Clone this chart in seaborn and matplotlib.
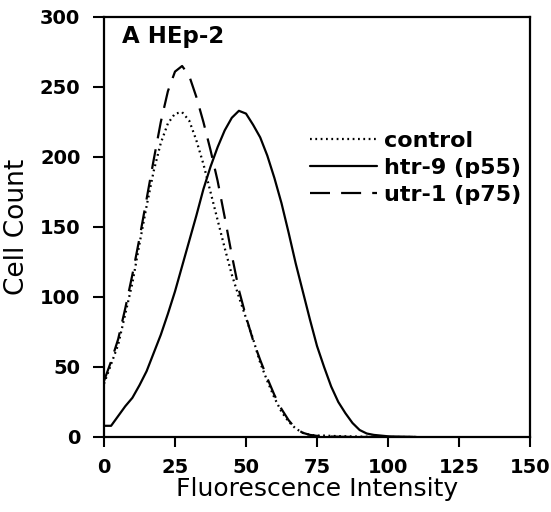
import numpy as np
import pandas as pd
import matplotlib
matplotlib.use("Agg")
import matplotlib.pyplot as plt
import seaborn as sns

# Fluorescence intensity channels (read every 2.5 units)
intensity = [i * 2.5 for i in range(45)]

control = [38, 52, 66, 88, 110, 138, 165, 190, 210, 224,
           231, 232, 226, 212, 195, 175, 155, 135, 116, 100,
           85, 70, 53, 40, 28, 18, 11, 6, 3, 1.5,
           1, 1, 0.8, 0.6, 0.5, 0.4, 0.3, 0.2, 0.2, 0.1,
           0, 0, 0, 0, 0]

htr9 = [8, 8, 15, 22, 28, 37, 47, 60, 73, 88,
        104, 122, 140, 158, 177, 193, 207, 219, 228, 233,
        231, 223, 214, 201, 185, 167, 146, 124, 104, 84,
        65, 50, 36, 25, 17, 10, 5, 2.5, 1.5, 1,
        0.5, 0.3, 0.2, 0.1, 0]

utr1 = [40, 54, 70, 92, 116, 142, 170, 198, 225, 247,
        261, 265, 258, 243, 225, 205, 183, 157, 130, 105,
        86, 69, 55, 42, 30, 20, 12, 6, 3, 1.5,
        0.8, 0.5, 0.3, 0.2, 0.1, 0, 0, 0, 0, 0,
        0, 0, 0, 0, 0]

labels = ["control", "htr-9 (p55)", "utr-1 (p75)"]
xticks = [0, 25, 50, 75, 100, 125, 150]
yticks = [0, 50, 100, 150, 200, 250, 300]

sns.set_style("ticks")
plt.rcParams["font.family"] = ["DejaVu Sans"]
plt.rcParams["text.color"] = "black"
plt.rcParams["axes.labelcolor"] = "black"
plt.rcParams["xtick.color"] = "black"
plt.rcParams["ytick.color"] = "black"

fig = plt.figure(figsize=(5.51, 5.12), dpi=100)
ax = fig.add_axes([104 / 551, 75 / 512, 426 / 551, 420 / 512])

df = pd.DataFrame({"x": intensity, "control": control, "htr9": htr9, "utr1": utr1})

sns.lineplot(data=df, x="x", y="control", ax=ax, color="black", lw=1.6,
             linestyle=(0, (0.8, 1.6)), label=labels[0])
sns.lineplot(data=df, x="x", y="htr9", ax=ax, color="black", lw=1.6,
             linestyle="-", label=labels[1])
sns.lineplot(data=df, x="x", y="utr1", ax=ax, color="black", lw=1.6,
             linestyle=(0, (9, 5)), label=labels[2])

ax.set_xlim(0, 150)
ax.set_ylim(0, 300)
ax.set_xticks(xticks)
ax.set_yticks(yticks)
ax.set_xticklabels([str(t) for t in xticks], fontweight="bold", fontsize=14, color="black")
ax.set_yticklabels([str(t) for t in yticks], fontweight="bold", fontsize=14, color="black")
ax.tick_params(axis="x", length=7, width=1.5, pad=8, direction="out", colors="black")
ax.tick_params(axis="y", length=8, width=1.5, pad=9, direction="out", colors="black")
for s in ax.spines.values():
    s.set_visible(True)
    s.set_linewidth(1.6)
    s.set_color("black")

ax.set_xlabel("Fluorescence Intensity", fontsize=18, labelpad=0, color="black")
ax.set_ylabel("Cell Count", fontsize=19, labelpad=7, color="black")

ax.text(0.042, 0.954, "A HEp-2", transform=ax.transAxes, fontsize=16.5,
        fontweight="bold", ha="left", va="center", color="black")

leg = ax.legend(loc="upper left", bbox_to_anchor=(0.484, 0.728), frameon=False,
                borderpad=0, borderaxespad=0, handlelength=3.0, handletextpad=0.3,
                labelspacing=0.3, prop={"weight": "bold", "size": 16})
for line in leg.get_lines():
    line.set_linewidth(1.6)
for t in leg.get_texts():
    t.set_color("black")

fig.savefig("out.png", dpi=100)
